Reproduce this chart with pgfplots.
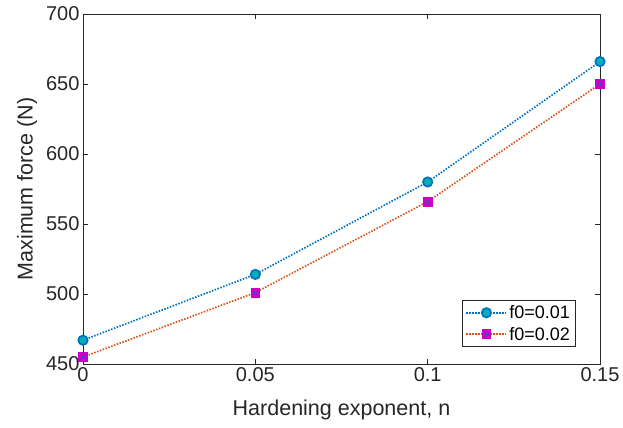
\documentclass[border=0pt]{standalone}
\usepackage{pgfplots}
\pgfplotsset{compat=1.18}
\usepackage{fontspec}
\setmainfont{Liberation Sans}
\definecolor{mblue}{RGB}{0,114,189}
\definecolor{morange}{RGB}{217,83,25}
\definecolor{mteal}{RGB}{0,175,185}
\definecolor{mmag}{RGB}{200,0,200}
\definecolor{axgray}{RGB}{38,38,38}
\pgfdeclareplotmark{sqdot}{%
  \pgfpathrectangle{\pgfpoint{-\pgfplotmarksize}{-\pgfplotmarksize}}{\pgfpoint{2\pgfplotmarksize}{2\pgfplotmarksize}}%
  \pgfsetfillcolor{mmag}\pgfsetstrokecolor{mmag}\pgfusepath{fill,stroke}%
  \pgfpathcircle{\pgfpointorigin}{0.35\pgfplotmarksize}%
  \pgfsetfillcolor{mblue}\pgfusepath{fill}%
}
\begin{document}
\begin{tikzpicture}
\begin{axis}[
  scale only axis,
  width=517pt, height=350pt,
  clip=false,
  xmin=0, xmax=0.15, ymin=450, ymax=700,
  xtick={0,0.05,0.1,0.15},
  xticklabels={0,0.05,0.1,0.15},
  ytick={450,500,550,600,650,700},
  tick align=inside,
  major tick length=5pt,
  axis line style={axgray, line width=0.6pt},
  tick style={axgray, line width=0.6pt},
  ticklabel style={font=\fontsize{20}{24}\selectfont, text=axgray},
  /pgf/number format/assume math mode=true,
  xlabel={Hardening exponent, n},
  ylabel={Maximum force (N)},
  label style={font=\fontsize{21.5}{25}\selectfont, text=axgray},
  xlabel style={at={(axis description cs:0.5,-46/350)}, anchor=center},
  ylabel style={at={(axis description cs:-56/517,0.5)}, anchor=center},
  legend style={at={(axis description cs:0.952,0.049)}, anchor=south east, draw=axgray, line width=0.6pt,
    font=\fontsize{18}{21}\selectfont, row sep=3pt, inner xsep=3pt, inner ysep=3pt,
    legend cell align=left},
  legend image code/.code={%
    \draw[#1, mark repeat=2, mark phase=2] plot coordinates {(0pt,0pt) (20pt,0pt) (40pt,0pt)};},
]
\addplot[mblue, line width=1.7pt, dash pattern=on 1.5pt off 1.5pt,
  mark=*, mark size=4.7pt, mark options={solid, draw=mblue, fill=mteal, line width=1.7pt}]
  coordinates {(0,467) (0.05,514) (0.1,580) (0.15,666)};
\addlegendentry{f0=0.01}
\addplot[morange, line width=1.7pt, dash pattern=on 1.5pt off 1.5pt,
  mark=sqdot, mark size=4.4pt, mark options={solid, line width=0.8pt}]
  coordinates {(0,455) (0.05,501) (0.1,566) (0.15,650)};
\addlegendentry{f0=0.02}
\path (rel axis cs:-83/517,-64/350) rectangle (rel axis cs:540/517,364/350);
\end{axis}
\end{tikzpicture}
\end{document}
